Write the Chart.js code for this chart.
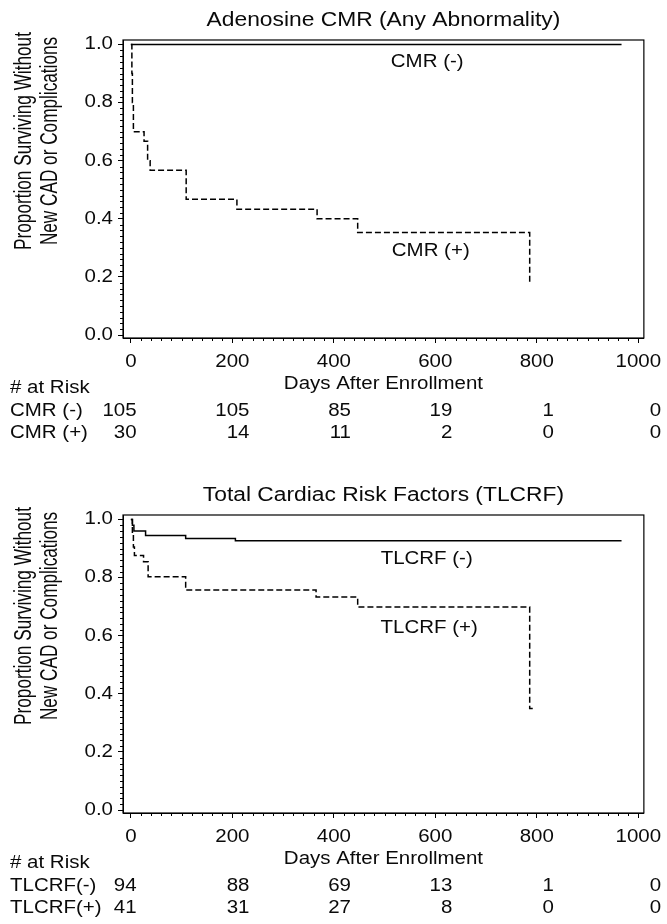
<!DOCTYPE html>
<html><head><meta charset="utf-8">
<script src="https://cdn.jsdelivr.net/npm/chart.js@4.4.1/dist/chart.umd.min.js"></script>
<style>
html,body{margin:0;padding:0;background:#fff;}
#wrap{position:relative;width:667px;height:924px;overflow:hidden;background:#fff;}
.c{position:absolute;left:0;width:667px;height:449px;}
</style></head><body>
<div id="wrap">
<div class="c" style="top:0"><canvas id="c1"></canvas></div>
<div class="c" style="top:475px"><canvas id="c2"></canvas></div>
</div>
<script>
// ---------- data ----------
const riskDays = [0, 200, 400, 600, 800, 1000];
const yTicks = [0.0, 0.2, 0.4, 0.6, 0.8, 1.0];

const cmrNegDays = [0, 967];
const cmrNegSurv = [1.0, 1.0];
const cmrPosDays = [0, 2, 3, 5, 26, 33, 38, 109, 209, 367, 447, 786];
const cmrPosSurv = [1.0, 0.9, 0.8, 0.70, 0.667, 0.6, 0.567, 0.467, 0.433, 0.40, 0.353, 0.177];
const cmrNegRisk = [105, 105, 85, 19, 1, 0];
const cmrPosRisk = [30, 14, 11, 2, 0, 0];

const tlNegDays = [0, 3, 6, 29, 108, 206, 967];
const tlNegSurv = [1.0, 0.98, 0.96, 0.945, 0.935, 0.927, 0.927];
const tlPosDays = [0, 3, 5, 7, 25, 34, 108, 365, 447, 786, 793];
const tlPosSurv = [1.0, 0.95, 0.905, 0.876, 0.855, 0.803, 0.757, 0.733, 0.699, 0.349, 0.349];
const tlNegRisk = [94, 88, 69, 13, 1, 0];
const tlPosRisk = [41, 31, 27, 8, 0, 0];

// ---------- style ----------
const FONT = '"Liberation Sans", Arial, Helvetica, sans-serif';
const TXT = '#0a0a0a';
const FS = 17.5;
const SX = 1.17;   // horizontal text stretch seen in the reference

function pts(xs, ys) { return xs.map((x, i) => ({ x: x, y: ys[i] })); }

function stretchText(ctx) {
  if (ctx.__stretched) return;
  const orig = ctx.fillText;
  ctx.fillText = function (t, x, y) {
    const m = this.getTransform();
    this.save();
    this.translate(x, y);
    if (Math.abs(m.b) > 0.5) this.scale(1, 1.35); else this.scale(SX, 1);
    orig.call(this, t, 0, 0);
    this.restore();
  };
  ctx.__stretched = true;
}

const decor = {
  id: 'decor',
  beforeDraw(chart) { stretchText(chart.ctx); },
  afterDraw(chart) {
    const o = chart.options.plugins.decor;
    const ctx = chart.ctx, a = chart.chartArea, xs = chart.scales.x, ys = chart.scales.y;
    ctx.save();
    ctx.strokeStyle = '#000';
    ctx.lineWidth = 1.2;
    ctx.strokeRect(a.left, a.top, a.right - a.left, a.bottom - a.top);
    // minor ticks
    ctx.lineWidth = 1;
    ctx.beginPath();
    for (let i = 0; i <= 50; i++) {
      if (i % 10 === 0) continue;
      const py = Math.round(ys.getPixelForValue(i * 0.02)) + 0.5;
      ctx.moveTo(a.left - 3, py); ctx.lineTo(a.left, py);
    }
    for (let d = 0; d <= 1000; d += 20) {
      if (d % 200 === 0) continue;
      const px = Math.round(xs.getPixelForValue(d)) + 0.5;
      ctx.moveTo(px, a.bottom); ctx.lineTo(px, a.bottom + 3);
    }
    ctx.stroke();

    ctx.fillStyle = TXT;
    ctx.font = FS + 'px ' + FONT;
    ctx.textBaseline = 'middle';
    // y-axis title (two lines)
    o.yTitle.forEach((line, k) => {
      ctx.save();
      ctx.translate(25 + k * 26, a.top + 101);
      ctx.rotate(-Math.PI / 2);
      ctx.textAlign = 'center';
      ctx.font = '17.2px ' + FONT;
      ctx.fillText(line, 0, 0);
      ctx.restore();
    });
    // curve labels
    ctx.textAlign = 'center';
    o.curveLabels.forEach(l => {
      ctx.fillText(l.text, xs.getPixelForValue(l.x), ys.getPixelForValue(l.y));
    });
    // risk table
    ctx.textAlign = 'left';
    ctx.fillText('# at Risk', 10, a.bottom + 50);
    o.rows.forEach((r, k) => {
      const y = a.bottom + 73 + k * 22.5;
      ctx.textAlign = 'left';
      ctx.fillText(r.label, 10, y);
      ctx.textAlign = 'right';
      riskDays.forEach((d, i) => {
        const w = ctx.measureText(String(d)).width * SX;
        ctx.fillText(String(r.values[i]), xs.getPixelForValue(d) + w / 2, y);
      });
    });
    ctx.restore();
  }
};

function build(id, cfg) {
  new Chart(document.getElementById(id), {
    type: 'line',
    data: {
      datasets: [
        { label: cfg.negName, data: pts(cfg.negDays, cfg.negSurv), stepped: true,
          borderColor: '#000', borderWidth: 1.5, pointRadius: 0, fill: false },
        { label: cfg.posName, data: pts(cfg.posDays, cfg.posSurv), stepped: true,
          borderColor: '#000', borderWidth: 1.5, borderDash: [6, 3], pointRadius: 0, fill: false }
      ]
    },
    options: {
      responsive: true, maintainAspectRatio: false, animation: false, devicePixelRatio: 1,
      layout: { padding: { left: 0, right: 22, top: 0, bottom: 54 } },
      plugins: {
        legend: { display: false },
        tooltip: { enabled: false },
        title: { display: true, text: cfg.title, fullSize: false, color: TXT,
          font: { family: FONT, size: 19.5, weight: 'normal' }, padding: { top: 9.3, bottom: 7.3 } },
        decor: { yTitle: ['Proportion Surviving Without', 'New CAD or Complications'],
          curveLabels: cfg.curveLabels, rows: cfg.rows }
      },
      scales: {
        x: {
          type: 'linear', min: -15.5, max: 1011,
          afterBuildTicks: s => { s.ticks = riskDays.map(v => ({ value: v })); },
          ticks: { autoSkip: false, maxRotation: 0,
            color: TXT, font: { family: FONT, size: FS }, padding: 9, callback: v => String(v) },
          grid: { drawOnChartArea: false, drawTicks: true, tickLength: 5, color: '#000', lineWidth: 1 },
          border: { display: true, color: '#000', width: 1 },
          title: { display: true, text: 'Days After Enrollment', color: TXT,
            font: { family: FONT, size: FS }, padding: { top: 0, bottom: 0 } },
          afterFit: s => { s.height = 57; }
        },
        y: {
          type: 'linear', min: -0.0103, max: 1.0155,
          afterBuildTicks: s => { s.ticks = yTicks.map(v => ({ value: v })); },
          ticks: { color: TXT, font: { family: FONT, size: FS }, padding: 5,
            callback: v => Number(v).toFixed(1) },
          grid: { drawOnChartArea: false, drawTicks: true, tickLength: 5, color: '#000', lineWidth: 1 },
          border: { display: true, color: '#000', width: 1 },
          afterFit: s => { s.width = 123; }
        }
      }
    },
    plugins: [decor]
  });
}

build('c1', {
  title: 'Adenosine CMR (Any Abnormality)',
  negName: 'CMR (-)', posName: 'CMR (+)',
  negDays: cmrNegDays, negSurv: cmrNegSurv, posDays: cmrPosDays, posSurv: cmrPosSurv,
  curveLabels: [{ text: 'CMR (-)', x: 584, y: 0.939 }, { text: 'CMR (+)', x: 591, y: 0.289 }],
  rows: [{ label: 'CMR (-)', values: cmrNegRisk }, { label: 'CMR (+)', values: cmrPosRisk }]
});
build('c2', {
  title: 'Total Cardiac Risk Factors (TLCRF)',
  negName: 'TLCRF (-)', posName: 'TLCRF (+)',
  negDays: tlNegDays, negSurv: tlNegSurv, posDays: tlPosDays, posSurv: tlPosSurv,
  curveLabels: [{ text: 'TLCRF (-)', x: 583, y: 0.865 }, { text: 'TLCRF (+)', x: 588, y: 0.627 }],
  rows: [{ label: 'TLCRF(-)', values: tlNegRisk }, { label: 'TLCRF(+)', values: tlPosRisk }]
});
</script>
</body></html>
